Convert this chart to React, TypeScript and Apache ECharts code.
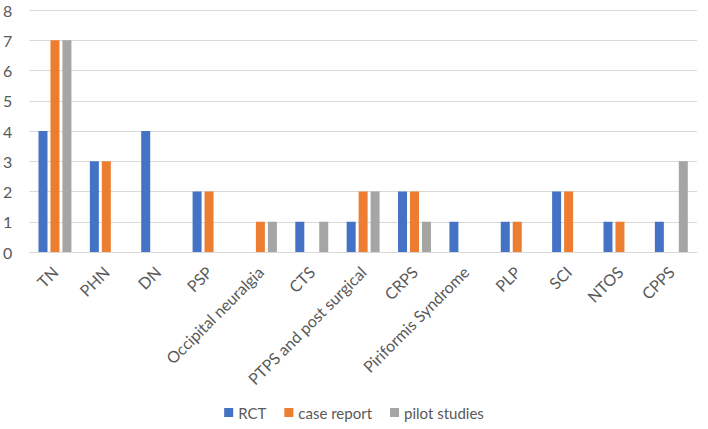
import React, { useEffect, useRef } from "react";
import * as echarts from "echarts";

const categories = [
  "TN",
  "PHN",
  "DN",
  "PSP",
  "Occipital neuralgia",
  "CTS",
  "PTPS and post surgical",
  "CRPS",
  "Piriformis Syndrome",
  "PLP",
  "SCI",
  "NTOS",
  "CPPS",
];
const rct = [4, 3, 4, 2, 0, 1, 1, 2, 1, 1, 2, 1, 1];
const caseReport = [7, 3, 0, 2, 1, 0, 2, 2, 0, 1, 2, 1, 0];
const pilotStudies = [7, 0, 0, 0, 1, 1, 2, 1, 0, 0, 0, 0, 3];
const yTicks = [0, 1, 2, 3, 4, 5, 6, 7, 8];

export default function App() {
  const ref = useRef<HTMLDivElement>(null);
  useEffect(() => {
    if (!ref.current) return;
    const chart = echarts.init(ref.current, undefined, { renderer: "svg" });
    const font = "Lato, Open Sans, Liberation Sans, Arial, sans-serif";
    chart.setOption({
      animation: false,
      textStyle: { fontFamily: font },
      grid: { left: 26, right: 11, top: 10, bottom: 177, containLabel: false },
      legend: {
        bottom: 4,
        left: "center",
        itemWidth: 9,
        itemHeight: 9,
        itemGap: 18,
        icon: "rect",
        textStyle: { fontSize: 15, color: "#595959", fontFamily: font },
        data: ["RCT", "case report", "pilot studies"],
      },
      xAxis: {
        type: "category",
        data: categories,
        axisLine: { lineStyle: { color: "#d9d9d9" } },
        axisTick: { show: false },
        axisLabel: {
          rotate: 45,
          interval: 0,
          fontSize: 16,
          color: "#595959",
          margin: 17,
          fontFamily: font,
        },
      },
      yAxis: {
        type: "value",
        min: yTicks[0],
        max: yTicks[yTicks.length - 1],
        interval: 1,
        axisLine: { show: false },
        axisTick: { show: false },
        splitLine: { lineStyle: { color: "#d9d9d9" } },
        axisLabel: { fontSize: 16, color: "#595959", margin: 17, fontFamily: font },
      },
      series: [
        { name: "RCT", type: "bar", data: rct, barWidth: 9, barGap: "33%", itemStyle: { color: "#4472C4" } },
        { name: "case report", type: "bar", data: caseReport, barWidth: 9, barGap: "33%", itemStyle: { color: "#ED7D31" } },
        { name: "pilot studies", type: "bar", data: pilotStudies, barWidth: 9, barGap: "33%", itemStyle: { color: "#A5A5A5" } },
      ],
    });
    return () => chart.dispose();
  }, []);
  return (
    <div
      ref={ref}
      style={{ position: "fixed", left: 0, top: 0, width: 708, height: 429, background: "#fff" }}
    />
  );
}
